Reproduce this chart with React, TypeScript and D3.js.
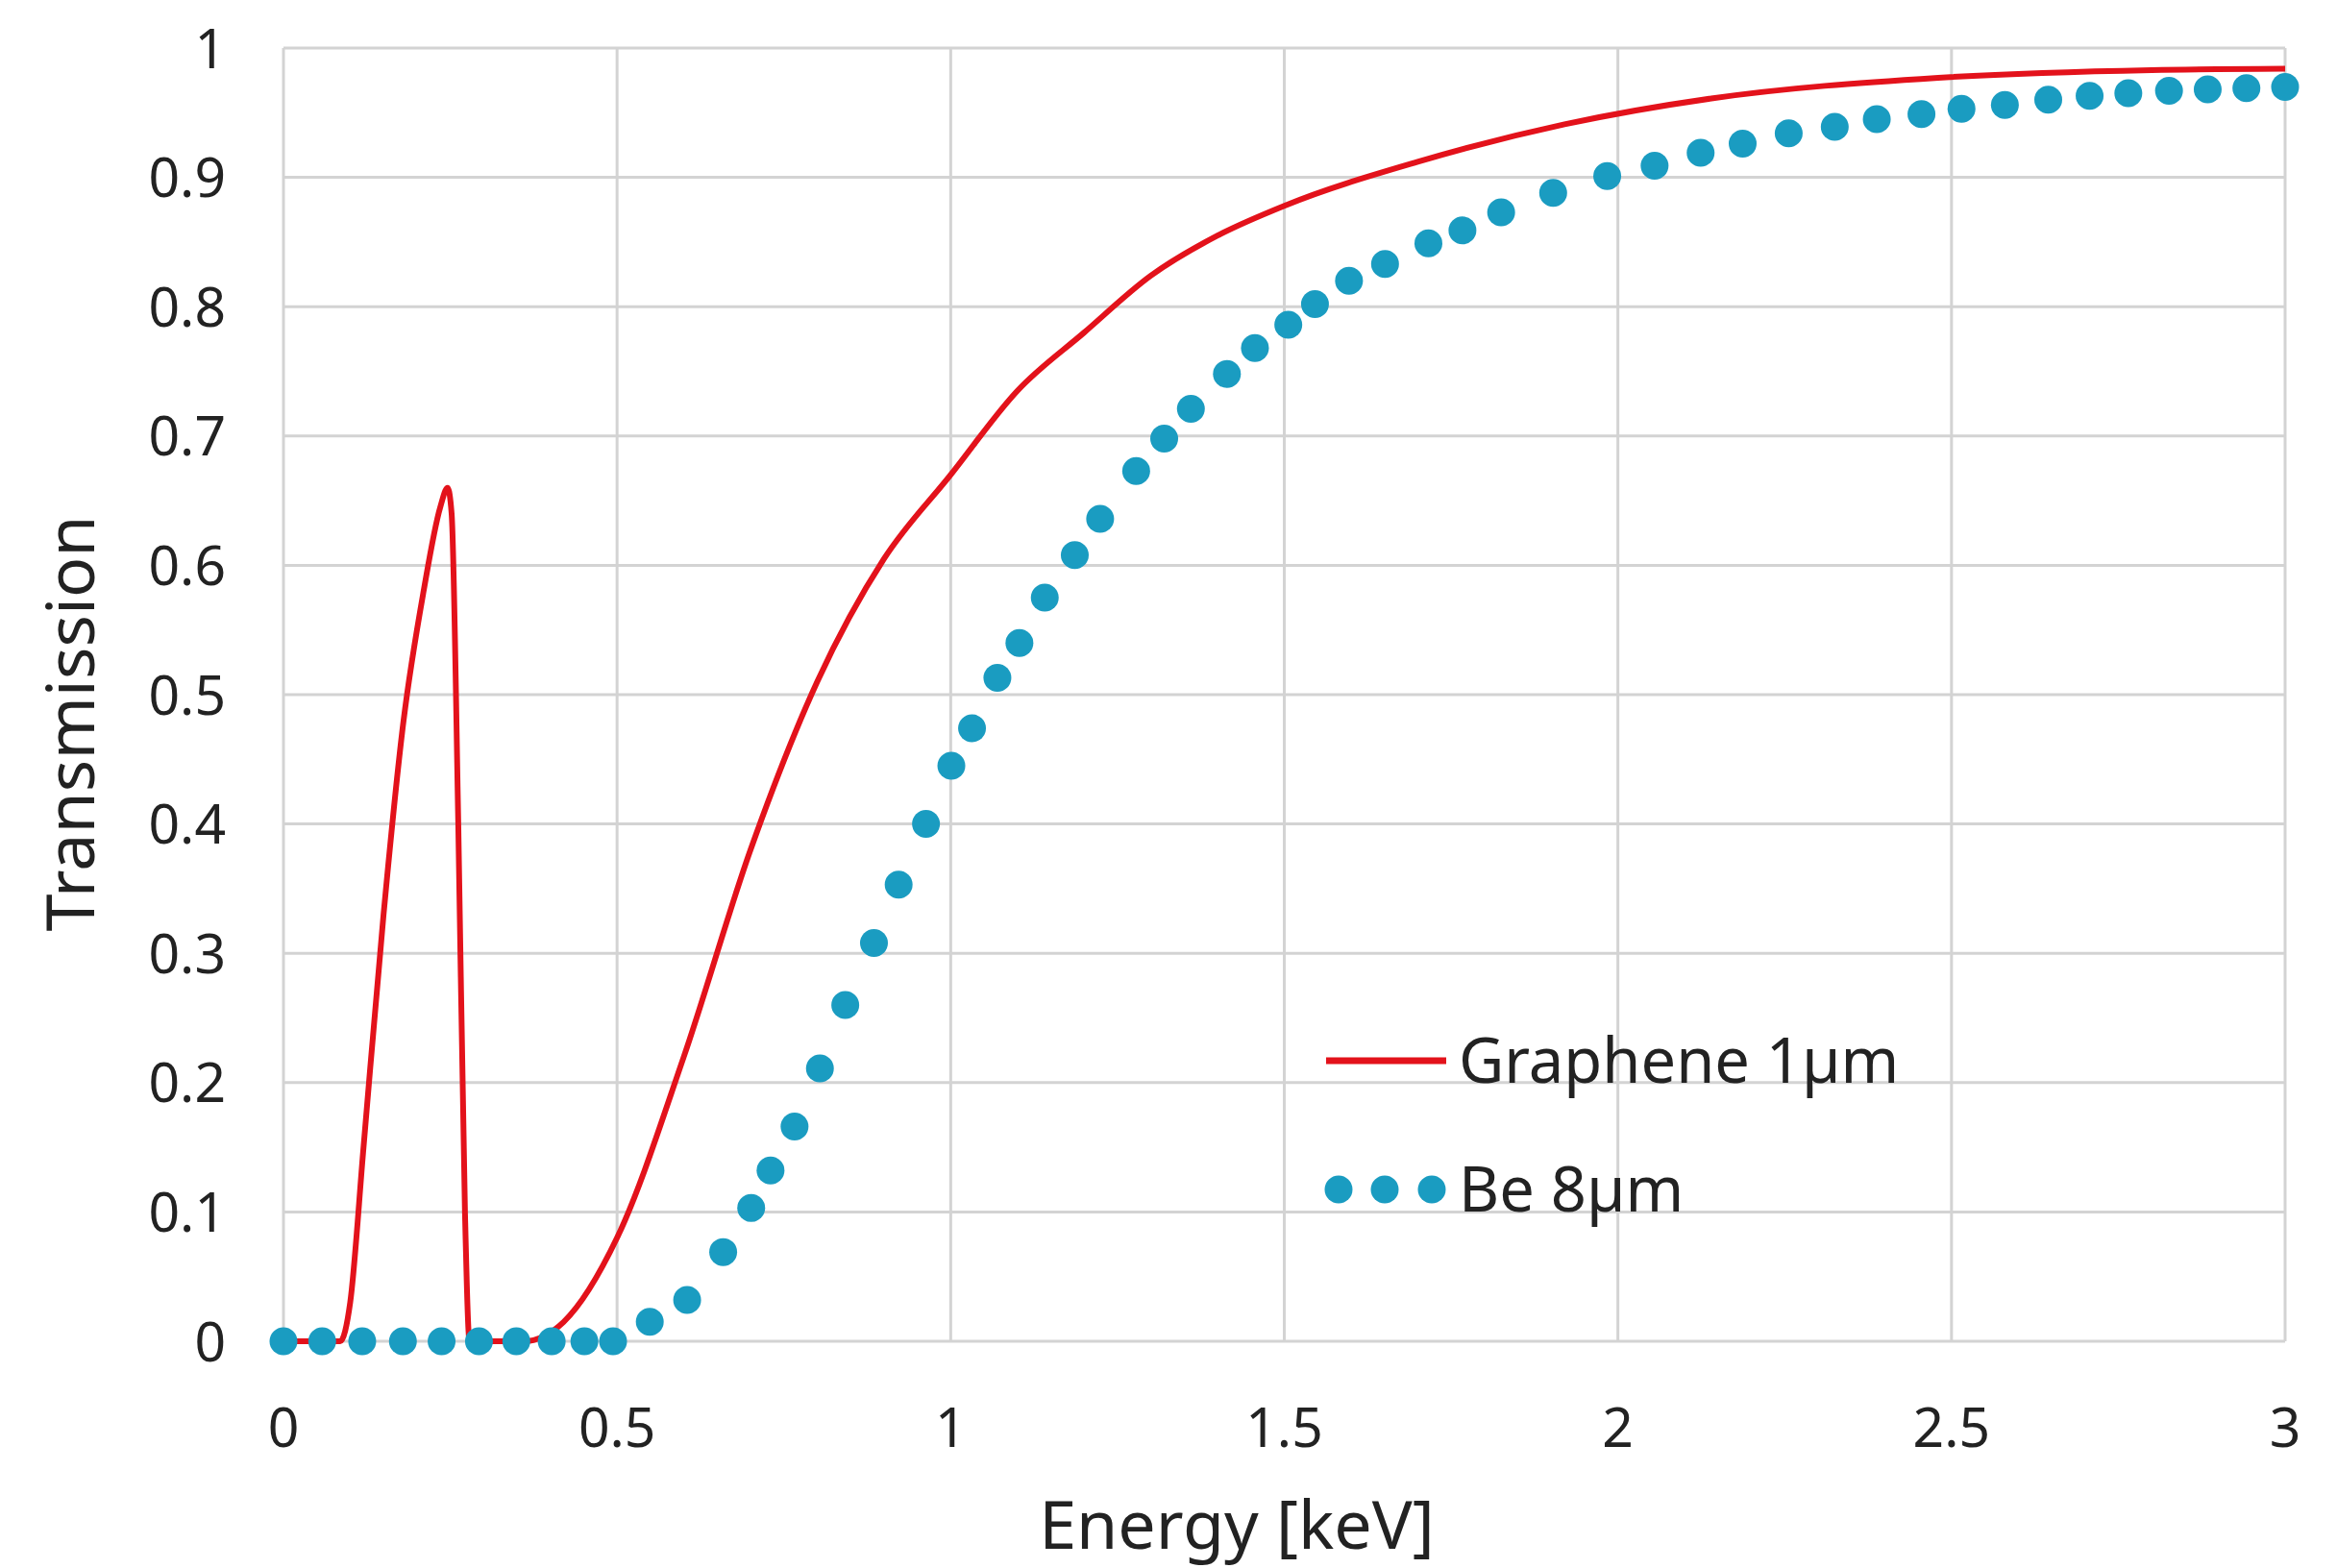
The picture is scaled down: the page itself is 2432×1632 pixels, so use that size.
import * as d3 from "d3";

const W = 2432;
const H = 1632;
const m = { left: 295, top: 50, right: 54, bottom: 236 };

const xTicks = [0, 0.5, 1, 1.5, 2, 2.5, 3];
const yTicks = [0, 0.1, 0.2, 0.3, 0.4, 0.5, 0.6, 0.7, 0.8, 0.9, 1];

// Graphene 1µm (solid red line)
const grapheneE = [0, 0.085, 0.1, 0.12, 0.15, 0.18, 0.21, 0.235, 0.246, 0.252, 0.262, 0.272, 0.279, 0.36, 0.42, 0.5, 0.6, 0.7, 0.8, 0.9, 1.0, 1.1, 1.2, 1.3, 1.4, 1.5, 1.7, 1.92, 2.14, 2.48, 2.8, 3];
const grapheneT = [0, 0, 0.03, 0.15, 0.33, 0.48, 0.58, 0.645, 0.66, 0.64, 0.4, 0.1, 0, 0, 0.015, 0.08, 0.22, 0.38, 0.51, 0.605, 0.67, 0.735, 0.78, 0.824, 0.855, 0.878, 0.912, 0.941, 0.961, 0.977, 0.983, 0.984];

// Be 8µm (blue dots)
const beE = [0, 0.058, 0.118, 0.179, 0.237, 0.293, 0.349, 0.402, 0.451, 0.494, 0.549, 0.605, 0.659, 0.701, 0.73, 0.766, 0.804, 0.842, 0.885, 0.922, 0.963, 1.001, 1.032, 1.07, 1.103, 1.141, 1.186, 1.224, 1.278, 1.32, 1.36, 1.414, 1.456, 1.506, 1.546, 1.597, 1.651, 1.716, 1.767, 1.825, 1.903, 1.984, 2.055, 2.124, 2.187, 2.256, 2.325, 2.388, 2.455, 2.515, 2.58, 2.645, 2.707, 2.765, 2.826, 2.884, 2.942, 3];
const beT = [0, 0, 0, 0, 0, 0, 0, 0, 0, 0, 0.015, 0.032, 0.069, 0.103, 0.132, 0.166, 0.211, 0.26, 0.308, 0.353, 0.4, 0.445, 0.474, 0.513, 0.54, 0.575, 0.608, 0.636, 0.673, 0.698, 0.721, 0.748, 0.768, 0.786, 0.802, 0.82, 0.833, 0.849, 0.859, 0.873, 0.888, 0.901, 0.909, 0.919, 0.926, 0.934, 0.939, 0.945, 0.949, 0.953, 0.956, 0.96, 0.963, 0.965, 0.967, 0.968, 0.969, 0.97];

const RED = "#e3121b";
const BLUE = "#1a9cc1";
const FONT = "'Noto Sans', 'Open Sans', sans-serif";

export default function App() {
  const x = d3.scaleLinear().domain([0, 3]).range([m.left, W - m.right]);
  const y = d3.scaleLinear().domain([0, 1]).range([H - m.bottom, m.top]);
  const line = d3
    .line<number>()
    .x((_, i) => x(grapheneE[i]))
    .y((d) => y(d))
    .curve(d3.curveMonotoneX);

  return (
    <div style={{ position: "absolute", left: 0, top: 0 }}>
      <svg width={W} height={H} style={{ display: "block", background: "#fff" }} fontFamily={FONT}>
        {xTicks.map((t) => (
          <line key={"gx" + t} x1={x(t)} x2={x(t)} y1={y(0)} y2={y(1)} stroke="#d3d3d3" strokeWidth={3} />
        ))}
        {yTicks.map((t) => (
          <line key={"gy" + t} x1={x(0)} x2={x(3)} y1={y(t)} y2={y(t)} stroke="#d3d3d3" strokeWidth={3} />
        ))}
        {xTicks.map((t) => (
          <text key={"tx" + t} x={x(t)} y={y(0) + 110} textAnchor="middle" fontSize={57} fill="#222">
            {t}
          </text>
        ))}
        {yTicks.map((t) => (
          <text key={"ty" + t} x={x(0) - 60} y={y(t)} dy="0.36em" textAnchor="end" fontSize={57} fill="#222">
            {t}
          </text>
        ))}
        <text x={1287} y={H - 20} textAnchor="middle" fontSize={70} fill="#222">
          Energy [keV]
        </text>
        <text transform={`translate(98,${(y(0) + y(1)) / 2 + 30}) rotate(-90)`} textAnchor="middle" fontSize={70} fill="#222">
          Transmission
        </text>
        <path d={line(grapheneT) ?? ""} fill="none" stroke={RED} strokeWidth={6} strokeLinejoin="round" />
        {beT.map((v, i) => (
          <circle key={i} cx={x(beE[i])} cy={y(v)} r={14.5} fill={BLUE} />
        ))}
        <line x1={1380} x2={1505} y1={1104} y2={1104} stroke={RED} strokeWidth={7} />
        <text x={1518} y={1104} dy="0.36em" fontSize={65} fill="#222">Graphene 1µm</text>
        {[1393, 1441, 1490].map((cx) => (
          <circle key={cx} cx={cx} cy={1238} r={14.5} fill={BLUE} />
        ))}
        <text x={1518} y={1238} dy="0.36em" fontSize={65} fill="#222">Be 8µm</text>
      </svg>
    </div>
  );
}
